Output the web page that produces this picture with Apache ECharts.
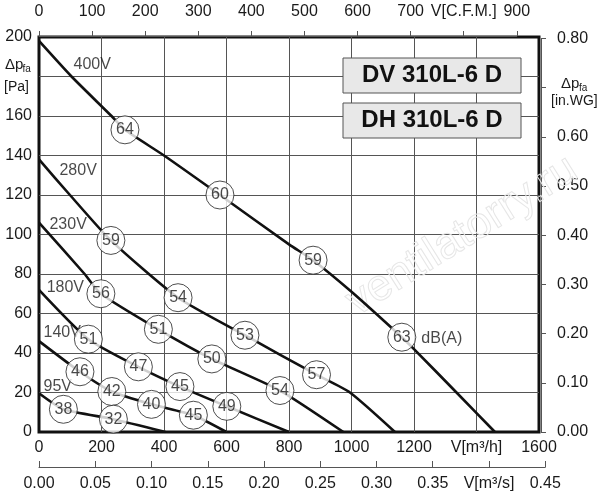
<!DOCTYPE html>
<html>
<head>
<meta charset="utf-8">
<script src="https://cdn.jsdelivr.net/npm/echarts@6/dist/echarts.min.js"></script>
<style>
  html, body { margin: 0; padding: 0; background: #fff; }
  #chart { width: 600px; height: 500px; }
</style>
</head>
<body>
<div id="chart"></div>
<script>
// fan curves: flow V [m3/h], pressure dp [Pa]
const curve400 = [[0,198],[104,180],[232,160],[275,153],[400,140],[579,120],[800,95],[877,87],[1000,71],[1161,48],[1200,42],[1336,20],[1459,0]];
const curve280 = [[0,138],[99,120],[230,97],[445,68],[659,49],[888,29],[995,20],[1139,0]];
const curve230 = [[0,106],[146,80],[198,70],[382,52],[553,37],[771,21],[974,0]];
const curve180 = [[0,72],[158,47],[318,33],[451,23],[601,13],[800,0]];
const curve140 = [[0,46],[131,30.5],[233,20.5],[360,14],[494,8.5],[600,0]];
const curve95  = [[0,19.6],[78,11.5],[238,6.5],[405,0]];

// noise level circles [flow, pressure, dB(A)]
const dbMarks = [
  [275,153,64],[579,120,60],[877,87,59],[1161,48,63],
  [230,97,59],[445,68,54],[659,49,53],[888,29,57],
  [198,70,56],[382,52,51],[553,37,50],[771,21,54],
  [158,47,51],[318,33,47],[451,23,45],[601,13,49],
  [131,30.5,46],[233,20.5,42],[360,14,40],[494,8.5,45],
  [78,11.5,38],[238,6.5,32]
];

// curve names [flow, pressure, text]
const curveLabels = [
  [112,186,'400V'],[67,132,'280V'],[35,105,'230V'],[26,73,'180V'],
  [16,50,'140V'],[16,22.6,'95V'],[1225,47,'dB(A)']
];

const models = ['DV 310L-6 D', 'DH 310L-6 D'];

const TXT = '#1a1a1a';
const FONT = 'Liberation Sans, Arial, sans-serif';
const chart = echarts.init(document.getElementById('chart'));

const lines = [curve400, curve280, curve230, curve180, curve140, curve95].map(d => ({
  type: 'line',
  data: d,
  symbol: 'none',
  smooth: 0.2,
  lineStyle: { color: '#111', width: 2.6 },
  z: 3,
  silent: true
}));

const option = {
  animation: false,
  textStyle: { fontFamily: FONT, color: TXT },
  grid: [
    { left: 39, right: 61, top: 37, bottom: 68, show: true, borderColor: '#111', borderWidth: 3 },
    { left: 39, width: 477.8, top: 26, height: 10 },      // C.F.M.
    { left: 39, width: 506.25, bottom: 33, height: 10 },  // m3/s
    { left: 541, width: 10, top: 38.4, bottom: 68 }       // in.WG
  ],
  xAxis: [
    {
      gridIndex: 0, type: 'value', min: 0, max: 1600, interval: 200,
      axisLine: { show: false }, axisTick: { show: false },
      splitLine: { show: true, showMinLine: false, showMaxLine: false, lineStyle: { color: '#555', width: 1 } },
      axisLabel: { fontSize: 16, color: TXT, margin: 8, formatter: v => v === 1400 ? 'V[m³/h]' : String(v) }
    },
    {
      gridIndex: 1, type: 'value', position: 'top', min: 0, max: 900, interval: 100,
      axisLine: { show: true, lineStyle: { color: '#555', width: 1 } },
      axisTick: { show: true, length: 5, lineStyle: { color: '#555' } },
      splitLine: { show: false },
      axisLabel: { fontSize: 16, color: TXT, margin: 6, formatter: v => v === 800 ? 'V[C.F.M.]' : String(v) }
    },
    {
      gridIndex: 2, type: 'value', position: 'bottom', min: 0, max: 0.45, interval: 0.05,
      axisLine: { show: true, lineStyle: { color: '#555', width: 1 } },
      axisTick: { show: true, inside: true, length: 6, lineStyle: { color: '#555' } },
      splitLine: { show: false },
      axisLabel: { fontSize: 16, color: TXT, margin: 9, formatter: v => Math.abs(v - 0.4) < 1e-6 ? 'V[m³/s]' : v.toFixed(2) }
    },
    { gridIndex: 3, type: 'value', show: false, min: 0, max: 1 }
  ],
  yAxis: [
    {
      gridIndex: 0, type: 'value', min: 0, max: 200, interval: 20,
      axisLine: { show: false }, axisTick: { show: false },
      splitLine: { show: true, showMinLine: false, showMaxLine: false, lineStyle: { color: '#555', width: 1 } },
      // 180 is left out: the axis name sits there
      axisLabel: { fontSize: 16, color: TXT, margin: 7, formatter: v => v === 180 ? '' : String(v) }
    },
    { gridIndex: 1, type: 'value', show: false, min: 0, max: 1 },
    { gridIndex: 2, type: 'value', show: false, min: 0, max: 1 },
    {
      gridIndex: 3, type: 'value', position: 'right', min: 0, max: 0.8, interval: 0.1,
      axisLine: { show: true, lineStyle: { color: '#555', width: 1 } },
      axisTick: { show: true, length: 5, lineStyle: { color: '#555' } },
      splitLine: { show: false },
      axisLabel: { fontSize: 16, color: TXT, margin: 6, formatter: v => Math.abs(v - 0.7) < 1e-6 ? '' : v.toFixed(2) }
    }
  ],
  series: [
    ...lines,
    {
      type: 'scatter',
      data: curveLabels,
      symbolSize: 1,
      itemStyle: { color: 'rgba(0,0,0,0)' },
      label: {
        show: true, position: [0, 0], align: 'left', verticalAlign: 'middle',
        fontSize: 16, color: TXT, formatter: p => p.value[2]
      },
      z: 4,
      silent: true
    },
    {
      type: 'scatter',
      data: dbMarks,
      symbol: 'circle',
      symbolSize: 28,
      itemStyle: { color: '#fff', borderColor: '#222', borderWidth: 1 },
      label: { show: true, position: 'inside', fontSize: 16, color: TXT, formatter: p => p.value[2] },
      z: 5,
      silent: true
    }
  ],
  graphic: [
    // watermark
    {
      type: 'text', x: 462, y: 236, rotation: 0.56, z: 1, silent: true,
      style: { text: 'ventilatorry.ru', font: '44px ' + FONT,
               fill: 'rgba(255,255,255,0)', stroke: '#e6e6e6', lineWidth: 1,
               align: 'center', verticalAlign: 'middle' }
    },
    // axis names
    { type: 'text', x: 5, y: 57, style: { text: 'Δp', font: '15px ' + FONT, fill: TXT } },
    { type: 'text', x: 22.5, y: 64, style: { text: 'fa', font: '10px ' + FONT, fill: TXT } },
    { type: 'text', x: 4, y: 80, style: { text: '[Pa]', font: '14px ' + FONT, fill: TXT } },
    { type: 'text', x: 561, y: 76, style: { text: 'Δp', font: '15px ' + FONT, fill: TXT } },
    { type: 'text', x: 579, y: 83, style: { text: 'fa', font: '10px ' + FONT, fill: TXT } },
    { type: 'text', x: 551, y: 94, style: { text: '[in.WG]', font: '14px ' + FONT, fill: TXT } },
    // model boxes
    ...models.flatMap((m, i) => [
      { type: 'rect', z: 10, shape: { x: 343, y: 58 + i * 45, width: 178, height: 35 },
        style: { fill: '#e8e8e8', stroke: '#555', lineWidth: 1 } },
      { type: 'text', z: 11, x: 432, y: 75.5 + i * 45,
        style: { text: m, font: 'bold 24px ' + FONT, fill: '#111',
                 align: 'center', verticalAlign: 'middle' } }
    ])
  ]
};

chart.setOption(option);
</script>
</body>
</html>
